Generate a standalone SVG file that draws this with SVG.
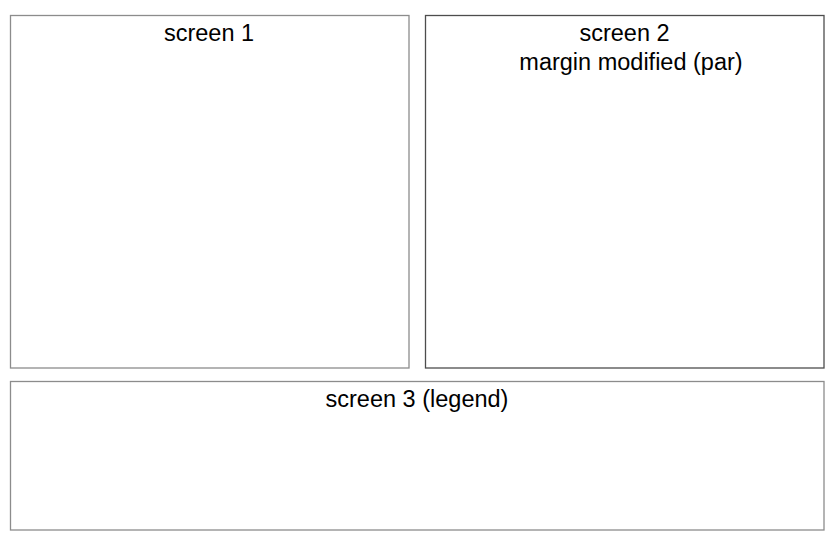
<svg xmlns="http://www.w3.org/2000/svg" width="834" height="546" viewBox="0 0 834 546">
<style>
.box{fill:#fff;stroke:#8c8c8c;stroke-width:1.3}
.dark{stroke:#4d4d4d}
text{font-family:"Liberation Sans",Arial,sans-serif;font-size:23.5px;fill:#000;text-anchor:middle}
</style>
<rect width="834" height="546" fill="#fff"/>
<g id="screen1">
<rect class="box" x="10.5" y="15.5" width="398.5" height="352.5"/>
<text x="209" y="41">screen 1</text>
</g>
<g id="screen2">
<rect class="box dark" x="425.5" y="15.5" width="398.5" height="352.5"/>
<text x="624.5" y="41">screen 2</text>
<text x="631" y="70">margin modified (par)</text>
</g>
<g id="screen3">
<rect class="box" x="10.5" y="381.5" width="813.5" height="148.5"/>
<text x="417" y="407">screen 3 (legend)</text>
</g>
<g id="connectors"></g>
</svg>
